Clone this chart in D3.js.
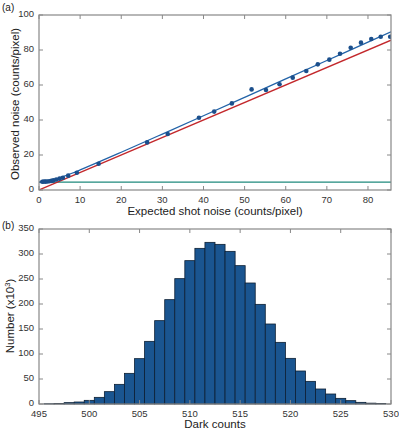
<!DOCTYPE html>
<html>
<head>
<meta charset="utf-8">
<script src="https://cdn.jsdelivr.net/npm/d3@7"></script>
<style>
  body { margin: 0; background: #fff; }
  text { font-family: "Liberation Sans", Arial, sans-serif; }
</style>
</head>
<body>
<script>
// panel (a): observed noise vs expected shot noise
var shotX = [0.8, 1.2, 1.6, 2.0, 2.5, 3.0, 3.5, 4.2, 5.0, 5.8, 7.1, 9.2, 14.5, 26.3, 31.3, 38.9,
  42.6, 46.9, 51.7, 55.2, 58.5, 61.7, 65.0, 67.8, 70.6, 73.2, 75.8, 78.3, 80.8, 83.1, 85.4];
var noiseY = [4.7, 4.8, 4.8, 4.9, 5.0, 5.2, 5.5, 6.0, 6.5, 7.0, 8.2, 9.9, 15.0, 27.2, 32.0, 41.3,
  44.8, 49.5, 57.5, 57.1, 60.4, 64.2, 68.0, 71.8, 74.5, 77.9, 81.3, 84.2, 86.3, 87.6, 87.6];
var fitSlope = 1.055;
var readNoise = 4.5;
var fitX = [0, 1, 2, 3, 4, 5, 6, 8, 10, 15, 20, 30, 40, 50, 60, 70, 80, 85.6];
var idealX = [0, 85.6];
var xTicksA = [0, 10, 20, 30, 40, 50, 60, 70, 80];
var yTicksA = [0, 20, 40, 60, 80, 100];

// panel (b): dark count histogram (x10^3)
var darkBins = [496, 497, 498, 499, 500, 501, 502, 503, 504, 505, 506, 507, 508, 509, 510, 511, 512,
  513, 514, 515, 516, 517, 518, 519, 520, 521, 522, 523, 524, 525, 526, 527, 528, 529];
var darkCounts = [0.5, 1, 2.7, 4, 7.3, 13.3, 24.7, 39.3, 61.3, 90.7, 125.3, 166.7, 208.7, 250.7, 286.7, 311.3, 323.3,
  319.3, 305.3, 276.7, 242, 199.3, 160, 123.3, 91.3, 66, 45.3, 30, 20, 11.3, 6.7, 3.3, 1.7, 1];
var xTicksB = [495, 500, 505, 510, 515, 520, 525, 530];
var yTicksB = [0, 50, 100, 150, 200, 250, 300, 350];

var W = 399, H = 431;
var svg = d3.select("body").append("svg").attr("width", W).attr("height", H);

var frameColor = "#888";
var tickLen = 4;

function drawFrame(g, x, y, xt, yt) {
	var x0 = x.range()[0], x1 = x.range()[1], y0 = y.range()[0], y1 = y.range()[1];
	// ticks on all four sides, pointing inward
	xt.forEach(function(t){
		g.append("line").attr("x1", x(t)).attr("x2", x(t)).attr("y1", y0).attr("y2", y0 - tickLen).attr("stroke", frameColor);
		g.append("line").attr("x1", x(t)).attr("x2", x(t)).attr("y1", y1).attr("y2", y1 + tickLen).attr("stroke", frameColor);
		g.append("text").attr("x", x(t)).attr("y", y0 + 12.5).attr("text-anchor", "middle")
			.attr("font-size", 9.5).attr("fill", "#333").text(t);
	});
	yt.forEach(function(t){
		g.append("line").attr("x1", x0).attr("x2", x0 + tickLen).attr("y1", y(t)).attr("y2", y(t)).attr("stroke", frameColor);
		g.append("line").attr("x1", x1).attr("x2", x1 - tickLen).attr("y1", y(t)).attr("y2", y(t)).attr("stroke", frameColor);
		g.append("text").attr("x", x0 - 5).attr("y", y(t) + 1.5).attr("text-anchor", "end")
			.attr("font-size", 9.5).attr("fill", "#333").text(t);
	});
	g.append("rect").attr("x", x0).attr("y", y1).attr("width", x1 - x0).attr("height", y0 - y1)
		.attr("fill", "none").attr("stroke", frameColor).attr("stroke-width", 1.2);
}

// ---- panel (a)
var xA = d3.scaleLinear().domain([0, 85.6]).range([39, 391]);
var yA = d3.scaleLinear().domain([0, 100]).range([190, 15]);
var gA = svg.append("g");

gA.append("defs").append("clipPath").attr("id", "clipA").append("rect")
	.attr("x", 39).attr("y", 15).attr("width", 352).attr("height", 175);
var plotA = gA.append("g").attr("clip-path", "url(#clipA)");

plotA.append("line").attr("x1", xA(0)).attr("x2", xA(85.6)).attr("y1", yA(readNoise)).attr("y2", yA(readNoise))
	.attr("stroke", "#1f8a7c").attr("stroke-width", 1.4);

plotA.append("path").datum(idealX)
	.attr("d", d3.line().x(function(d){ return xA(d); }).y(function(d){ return yA(d); }))
	.attr("fill", "none").attr("stroke", "#c3282c").attr("stroke-width", 1.3);

plotA.append("path").datum(fitX)
	.attr("d", d3.line().curve(d3.curveMonotoneX)
		.x(function(d){ return xA(d); })
		.y(function(d){ return yA(Math.sqrt(Math.pow(fitSlope * d, 2) + readNoise * readNoise)); }))
	.attr("fill", "none").attr("stroke", "#2263a8").attr("stroke-width", 1.3);

plotA.selectAll("circle").data(shotX).enter().append("circle")
	.attr("cx", function(d){ return xA(d); })
	.attr("cy", function(d, i){ return yA(noiseY[i]); })
	.attr("r", 2.3).attr("fill", "#1b4f8c");

drawFrame(gA, xA, yA, xTicksA, yTicksA);

svg.append("text").attr("x", 215).attr("y", 215).attr("text-anchor", "middle").attr("font-size", 11.5)
	.attr("fill", "#222").text("Expected shot noise (counts/pixel)");
svg.append("text").attr("transform", "translate(19,104) rotate(-90)").attr("text-anchor", "middle")
	.attr("font-size", 11.5).attr("fill", "#222").text("Observed noise (counts/pixel)");
svg.append("text").attr("x", 2).attr("y", 11).attr("font-size", 10).attr("fill", "#222").text("(a)");

// ---- panel (b)
var xB = d3.scaleLinear().domain([495, 530]).range([39, 391]);
var yB = d3.scaleLinear().domain([0, 350]).range([404, 229]);
var gB = svg.append("g");

gB.selectAll("rect.bar").data(darkBins).enter().append("rect").attr("class", "bar")
	.attr("x", function(d){ return xB(d - 0.5); })
	.attr("width", function(d){ return xB(d + 0.5) - xB(d - 0.5); })
	.attr("y", function(d, i){ return yB(darkCounts[i]); })
	.attr("height", function(d, i){ return yB(0) - yB(darkCounts[i]); })
	.attr("fill", "#1a5590").attr("stroke", "#0d1f33").attr("stroke-width", 0.8);

drawFrame(gB, xB, yB, xTicksB, yTicksB);

svg.append("text").attr("x", 215).attr("y", 428).attr("text-anchor", "middle").attr("font-size", 11.5)
	.attr("fill", "#222").text("Dark counts");
var yl = svg.append("text").attr("transform", "translate(14,316) rotate(-90)").attr("text-anchor", "middle")
	.attr("font-size", 11.5).attr("fill", "#222");
yl.append("tspan").text("Number (x10");
yl.append("tspan").attr("font-size", 7.5).attr("dy", -4).text("3");
yl.append("tspan").attr("dy", 4).text(")");
svg.append("text").attr("x", 2).attr("y", 229).attr("font-size", 10).attr("fill", "#222").text("(b)");
</script>
</body>
</html>
